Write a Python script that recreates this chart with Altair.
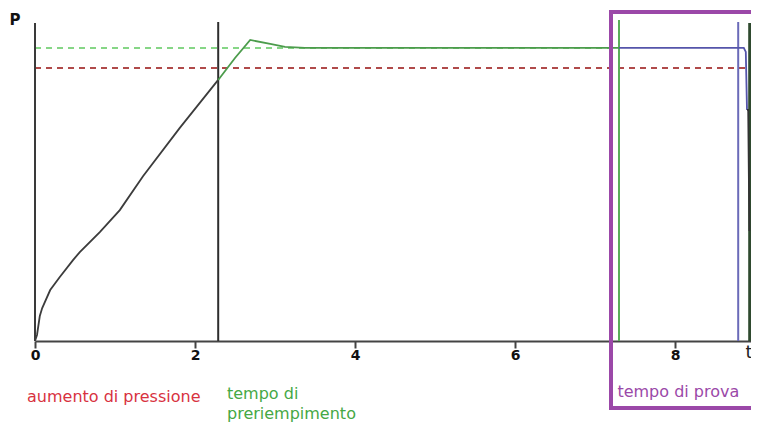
import altair as alt
import pandas as pd

# --- pressure curve (time t, pressure P) by phase ---
t_rise = [0, 0.025, 0.06, 0.09, 0.19, 0.31, 0.475, 0.56, 0.81, 1.06, 1.35, 1.81, 2.29]
p_rise = [0, 0.18, 0.75, 0.99, 1.53, 1.92, 2.43, 2.67, 3.27, 3.93, 4.95, 6.40, 7.84]
t_fill = [2.29, 2.5, 2.69, 2.94, 3.125, 3.375, 7.3]
p_fill = [7.84, 8.50, 9.04, 8.92, 8.83, 8.80, 8.80]
t_test = [7.3, 8.86, 8.885, 8.90]
p_test = [8.80, 8.80, 8.68, 6.94]
t_drop = [8.90, 8.915, 8.93]
p_drop = [6.94, 6.94, 3.3]

# reference levels
p_fill_level = 8.80
p_rise_level = 8.20

# phase boundaries (vertical markers): t, top
t_start, top_start = 0.0, 9.55
t_fill_start, top_fill_start = 2.29, 9.58
t_test_start, top_test_start = 7.3, 9.64
t_test_end, top_test_end = 8.79, 9.58
t_end, top_end = 8.94, 9.55

x_ticks = [0, 2, 4, 6, 8]
x_max = 8.95

# annotation box
box_t = [7.2, 9.2]
box_p = [9.88, -2.01]

X_SCALE = alt.Scale(domain=[0, x_max], nice=False, zero=False)
X_AXIS = alt.Axis(values=x_ticks, grid=False, title=None, domainColor="#444",
                  domainWidth=2, tickColor="#444", tickWidth=2, tickSize=7,
                  labelFontWeight="bold", labelFontSize=14, labelColor="#111",
                  labelFont="DejaVu Sans", labelPadding=0, labelFlush=False,
                  format="d")
X = alt.X("t:Q", scale=X_SCALE, axis=X_AXIS)
Y = alt.Y("P:Q", scale=alt.Scale(domain=[0, 10], nice=False), axis=None)


def seg_df(ts, ps):
    return pd.DataFrame({"t": ts, "P": ps, "i": list(range(len(ts)))})


def line_layer(ts, ps, color, width=1.8):
    return alt.Chart(seg_df(ts, ps)).mark_line(color=color, strokeWidth=width).encode(
        x=X, y=Y, order="i:Q"
    )


def vrule(t, top, color, width=2):
    df = pd.DataFrame({"t": [t], "P": [0.0], "P2": [top]})
    return alt.Chart(df).mark_rule(color=color, strokeWidth=width).encode(
        x=X, y=Y, y2="P2:Q"
    )


def hrule(p, t0, t1, color):
    df = pd.DataFrame({"t": [t0], "t2": [t1], "P": [p]})
    return alt.Chart(df).mark_rule(color=color, strokeWidth=2, strokeDash=[6, 5]).encode(
        x=X, x2="t2:Q", y=Y
    )


def label(t, p, text, color, size=16, weight="normal", align="left", font="DejaVu Sans"):
    df = pd.DataFrame({"t": [t], "P": [p], "txt": [text]})
    return alt.Chart(df).mark_text(
        color=color, fontSize=size, fontWeight=weight, align=align,
        baseline="middle", font=font
    ).encode(x=X, y=Y, text="txt:N")


box_df = pd.DataFrame({"t": [box_t[0]], "t2": [box_t[1]], "P": [box_p[0]], "P2": [box_p[1]]})
box = alt.Chart(box_df).mark_rect(fillOpacity=0, stroke="#9b48a8", strokeWidth=4).encode(
    x=X, x2="t2:Q", y=Y, y2="P2:Q"
)

layers = [
    hrule(p_fill_level, 0, t_test_start, "#86d686"),
    hrule(p_rise_level, 0, x_max + 0.2, "#b04a4a"),
    vrule(t_start, top_start, "#3a3a3a"),
    vrule(t_fill_start, top_fill_start, "#2e2e2e"),
    vrule(t_test_start, top_test_start, "#5aae5a"),
    vrule(t_test_end, top_test_end, "#6a6ab8"),
    vrule(t_end, top_end, "#2f4a2f", width=4),
    line_layer(t_rise, p_rise, "#3c3c3c"),
    line_layer(t_fill, p_fill, "#4c9c4c"),
    line_layer(t_test, p_test, "#5555aa"),
    line_layer(t_drop, p_drop, "#333333"),
    box,
    label(-0.25, 9.64, "P", "#111", size=15, weight="bold", align="center"),
    label(8.88, -0.36, "t", "#222", size=18),
    label(-0.1, -1.68, "aumento di pressione", "#d8323f"),
    label(2.4, -1.6, "tempo di", "#45a845"),
    label(2.4, -2.2, "preriempimento", "#45a845"),
    label(7.28, -1.53, "tempo di prova", "#9b48a8"),
]

chart = alt.layer(*layers).properties(
    width=716, height=333,
    background="white",
    autosize=alt.AutoSizeParams(type="none"),
    padding={"left": 27, "top": 0, "right": 0, "bottom": 82},
).configure_view(stroke=None)

chart.save("out.html", embed_options={"renderer": "svg", "actions": False})
